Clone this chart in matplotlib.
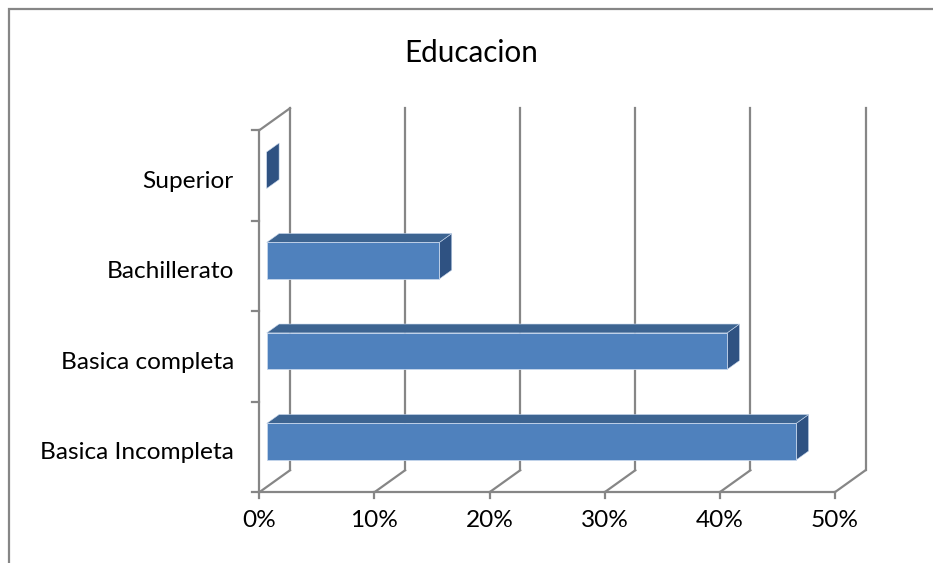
import matplotlib
matplotlib.use("Agg")
import matplotlib.pyplot as plt
from matplotlib.patches import Polygon, Rectangle
from matplotlib.lines import Line2D

# ---- data ----
title = "Educacion"
categories = ["Basica Incompleta", "Basica completa", "Bachillerato", "Superior"]
values = [46, 40, 15, 0]           # percent
xticks = [0, 10, 20, 30, 40, 50]
xticklabels = ["0%", "10%", "20%", "30%", "40%", "50%"]

# ---- geometry (oblique 3D projection in data units) ----
W, H = 933, 563
px_per_pct = 11.51
px_per_cat = 90.5
x0_px = 259.3            # pixel x of 0%
c0_px = 447.0            # pixel y (from top) of first category centre
DX = 30.7 / px_per_pct   # depth offset in x (data units)
DY = 22.0 / px_per_cat   # depth offset in y (data units)
F0, F1 = 0.241, 0.645    # bar depth span
HALF = 0.202             # bar half-height

plt.rcParams['font.family'] = ['Lato', 'DejaVu Sans']
fig = plt.figure(figsize=(W / 100, H / 100), dpi=100)
ax = fig.add_axes([0, 0, 1, 1])
ax.set_xlim(-x0_px / px_per_pct, (W - x0_px) / px_per_pct)
ax.set_ylim((c0_px - H) / px_per_cat, c0_px / px_per_cat)
ax.axis("off")

grid_c = "#868686"
lw = 1.6
n = len(categories)
ybot, ytop = -0.5, n - 0.5


def P(x, y, f):
    return (x + f * DX, y + f * DY)


# back wall gridlines and floor diagonals
for v in xticks:
    ax.add_line(Line2D([v + DX, v + DX], [ybot + DY, ytop + DY], color=grid_c, lw=lw, zorder=1))
    ax.add_line(Line2D([v, v + DX], [ybot, ybot + DY], color=grid_c, lw=lw, zorder=1))
    ax.add_line(Line2D([v, v], [ybot, ybot - 0.06], color=grid_c, lw=lw, zorder=1))
# front x axis
ax.add_line(Line2D([xticks[0], xticks[-1]], [ybot, ybot], color=grid_c, lw=lw, zorder=1))
# left wall
ax.add_line(Line2D([0, 0], [ybot, ytop], color=grid_c, lw=lw, zorder=1))
ax.add_line(Line2D([0, DX], [ytop, ytop + DY], color=grid_c, lw=lw, zorder=1))
for k in range(n + 1):
    yk = ybot + k
    ax.add_line(Line2D([0, -0.6], [yk, yk], color=grid_c, lw=lw, zorder=1))

# bars
front_c, top_c, side_c = "#4F81BD", "#3D6491", "#2F5282"
edge_c = "#C6D6EC"
for i, v in enumerate(values):
    c = i
    lo, hi = c - HALF, c + HALF
    side = [P(v, lo, F0), P(v, lo, F1), P(v, hi, F1), P(v, hi, F0)]
    top = [P(0, hi, F0), P(v, hi, F0), P(v, hi, F1), P(0, hi, F1)]
    front = [P(0, lo, F0), P(v, lo, F0), P(v, hi, F0), P(0, hi, F0)]
    ax.add_patch(Polygon(side, closed=True, facecolor=side_c, edgecolor=edge_c, lw=0.4, zorder=3))
    if v > 0:
        ax.add_patch(Polygon(top, closed=True, facecolor=top_c, edgecolor=edge_c, lw=0.4, zorder=3))
        ax.add_patch(Polygon(front, closed=True, facecolor=front_c, edgecolor=edge_c, lw=0.6, zorder=4))

# labels
fs = 17.6
for i, cat in enumerate(categories):
    ax.text(-2.2, i - 0.04, cat, ha="right", va="center_baseline", fontsize=fs, color="#000000")
for v, lab in zip(xticks, xticklabels):
    ax.text(v, -0.79, lab, ha="center", va="center_baseline", fontsize=fs, color="#000000")
ax.text((471 - x0_px) / px_per_pct, (c0_px - 50) / px_per_cat, title,
        ha="center", va="center_baseline", fontsize=21.3, color="#000000")

# chart border (top and left visible)
fig.add_artist(Rectangle((8.5 / W, -0.2), 1.2, 1.2 - 8.5 / H,
                         transform=fig.transFigure, fill=False, edgecolor="#868686", lw=1.6))

fig.savefig("out.png", dpi=100)
